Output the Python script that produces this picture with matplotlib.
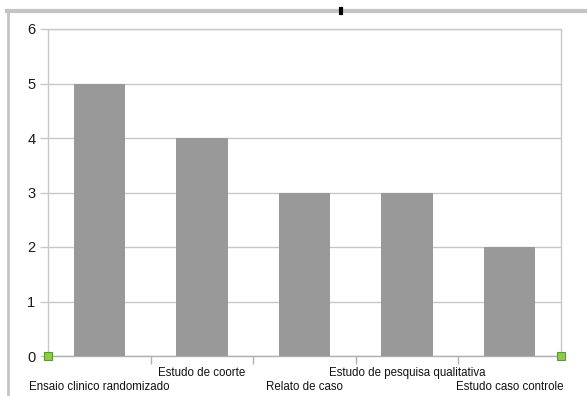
import matplotlib
matplotlib.use("Agg")
import matplotlib.pyplot as plt
from matplotlib.lines import Line2D
import numpy as np

categories = [
    "Ensaio clinico randomizado",
    "Estudo de coorte",
    "Relato de caso",
    "Estudo de pesquisa qualitativa",
    "Estudo caso controle",
]
counts = [5, 4, 3, 3, 2]
y_ticks = [0, 1, 2, 3, 4, 5, 6]

W, H = 587, 396
fig = plt.figure(figsize=(W / 100, H / 100), dpi=100)
fig.patch.set_facecolor("white")

# screenshot frame bits
fig.add_artist(Line2D([7 / W, 1], [1 - 11 / H] * 2, color="#c4c4c4", lw=3, transform=fig.transFigure))
fig.add_artist(Line2D([8 / W] * 2, [0, 1 - 11 / H], color="#c4c4c4", lw=2, transform=fig.transFigure))
fig.add_artist(Line2D([341 / W] * 2, [1 - 9 / H, 1 - 13 / H], color="black", lw=3, transform=fig.transFigure))

left, right, top, bottom = 48, 561, 29, 356
ax = fig.add_axes([left / W, 1 - bottom / H, (right - left) / W, (bottom - top) / H])

x = np.arange(len(categories))
ax.bar(x, counts, width=0.5, color="#999999", zorder=3)
ax.set_xlim(-0.5, len(categories) - 0.5)
ax.set_ylim(0, 6)
ax.set_yticks(y_ticks)
ax.yaxis.grid(True, color="#c8c8c8", lw=1, zorder=0)

for s in ax.spines.values():
    s.set_color("#c8c8c8")
    s.set_linewidth(1)
ax.spines["bottom"].set_color("#b0b0b0")

ax.tick_params(axis="y", length=6, width=1, color="#c8c8c8", labelsize=10.5,
               labelcolor="#1a1a1a", pad=3)
for lab in ax.get_yticklabels():
    lab.set_fontfamily("Liberation Sans")

# category boundary ticks below axis
ax.set_xticks(np.arange(0.5, len(categories) - 0.5, 1.0))
ax.set_xticklabels([])
ax.tick_params(axis="x", length=6, width=1, color="#b0b0b0")

# staggered category labels
for i, name in enumerate(categories):
    yoff = -31 if i % 2 == 0 else -17
    ax.annotate(name, (i, 0), xycoords=("data", "axes fraction"),
                xytext=(0, yoff * 0.72), textcoords="offset points",
                ha="center", va="center", fontsize=8.3,
                family="Liberation Sans", color="#111111")

# selection handles
for xv in (-0.5, len(categories) - 0.5):
    ax.plot([xv], [0], marker="s", ms=5.5, mfc="#8ccc4c", mec="#5a9a2a",
            mew=0.8, clip_on=False, zorder=5)

fig.savefig("out.png", dpi=100)
